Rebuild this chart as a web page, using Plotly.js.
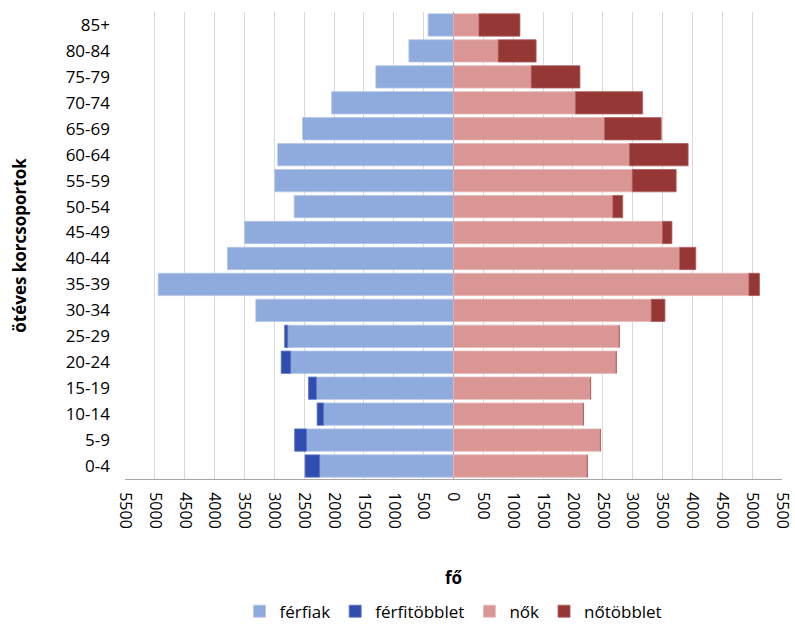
<!DOCTYPE html>
<html><head><meta charset="utf-8">
<script src="https://cdn.plot.ly/plotly-3.0.1.min.js"></script>
<style>html,body{margin:0;padding:0;background:#fff}#chart{width:795px;height:626px}</style>
</head><body><div id="chart"></div>
<script>
const categories = ["0-4","5-9","10-14","15-19","20-24","25-29","30-34","35-39","40-44","45-49","50-54","55-59","60-64","65-69","70-74","75-79","80-84","85+"];
const ferfiak = [2240, 2460, 2175, 2295, 2725, 2775, 3310, 4945, 3785, 3497, 2667, 2992, 2944, 2528, 2040, 1300, 747, 425];
const ferfitobblet = [245, 200, 108, 132, 160, 52, 0, 0, 0, 0, 0, 0, 0, 0, 0, 0, 0, 0];
const nok = [2240, 2460, 2175, 2295, 2725, 2775, 3310, 4945, 3785, 3497, 2667, 2992, 2944, 2528, 2040, 1300, 747, 425];
const notobblet = [0, 0, 0, 0, 0, 0, 230, 178, 272, 160, 166, 736, 984, 950, 1127, 817, 636, 687];
const tickValues = [-5500,-5000,-4500,-4000,-3500,-3000,-2500,-2000,-1500,-1000,-500,0,500,1000,1500,2000,2500,3000,3500,4000,4500,5000,5500];
const tickLabels = ["5500","5000","4500","4000","3500","3000","2500","2000","1500","1000","500","0","500","1000","1500","2000","2500","3000","3500","4000","4500","5000","5500"];

const neg = a => a.map(v => -v);
const mk = (name, x, color, line) => ({
  type: 'bar', orientation: 'h', name: name, y: categories, x: x,
  marker: {color: color, line: {color: line, width: 0.8}},
  hoverinfo: 'skip'
});
const data = [
  mk('férfiak', neg(ferfiak), '#8FAADC', '#B4C7E7'),
  mk('férfitöbblet', neg(ferfitobblet), '#2F4EB0', '#5A74C4'),
  mk('nők', nok, '#DA9694', '#E6B9B8'),
  mk('nőtöbblet', notobblet, '#953735', '#B06060')
];
const font = {family: '"Open Sans", "Noto Sans", sans-serif', size: 17, color: '#000'};
const layout = {
  width: 795, height: 626,
  margin: {l: 125, r: 13, t: 12, b: 147, autoexpand: false},
  barmode: 'relative', bargap: 0.14,
  paper_bgcolor: '#fff', plot_bgcolor: '#fff',
  font: font,
  showlegend: true,
  xaxis: {
    range: [-5500, 5500], tickmode: 'array', tickvals: tickValues, ticktext: tickLabels,
    tickangle: 90, showgrid: true, gridcolor: '#D9D9D9', gridwidth: 1,
    zeroline: true, zerolinecolor: '#A6A6A6', zerolinewidth: 1,
    showline: true, linecolor: '#A6A6A6', linewidth: 1,
    ticks: '', ticklabelstandoff: 9, ticklabeloverflow: 'allow', automargin: false,
    tickfont: {size: 16},
    title: {text: '<b>fő</b>', font: {size: 17}, standoff: 44}
  },
  yaxis: {
    type: 'category', showgrid: false, zeroline: false, showline: false, automargin: false,
    ticks: '', ticklabelstandoff: 14, tickfont: {size: 17},
    title: {text: '<b>ötéves korcsoportok</b>', font: {size: 17}, standoff: 34}
  },
  legend: {orientation: 'h', x: 0.5, xanchor: 'center', y: -0.284, yanchor: 'middle',
    font: {size: 17}, traceorder: 'normal', itemwidth: 30}
};
Plotly.newPlot('chart', data, layout, {staticPlot: true});
</script>
</body></html>
